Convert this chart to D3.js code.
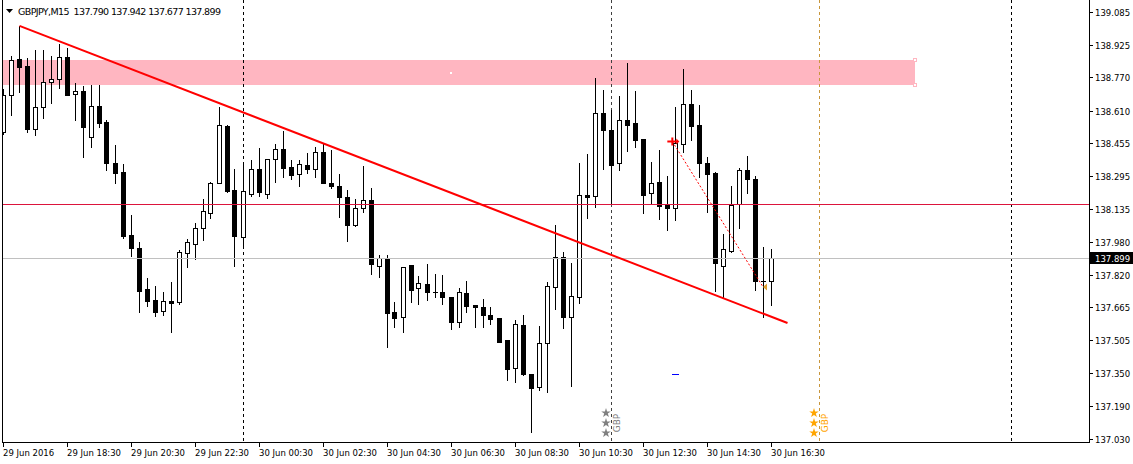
<!DOCTYPE html>
<html>
<head>
<meta charset="utf-8">
<script src="https://cdn.jsdelivr.net/npm/d3@7"></script>
<style>
  body { margin: 0; background: #fff; }
  svg { display: block; }
  text { font-family: "DejaVu Sans", Verdana, sans-serif; font-size: 8.5px; }
</style>
</head>
<body>
<div id="chart"></div>
<script>
// GBPJPY M15, 29 Jun 2016 16:30 .. 30 Jun 2016 16:30
var symbolName = "GBPJPY,M15";
var startTime = Date.UTC(2016, 5, 29, 16, 30);
var barMinutes = 15;

var opens = [138.508, 138.686, 138.859, 138.825, 138.522, 138.628, 138.748, 138.763, 138.869, 138.690,
    138.705, 138.484, 138.633, 138.556, 138.358, 138.315, 138.012, 137.949, 137.752, 137.699,
    137.646, 137.694, 137.690, 137.925, 137.969, 138.046, 138.118, 138.262, 138.537, 138.229,
    138.002, 138.209, 138.330, 138.209, 138.378, 138.426, 138.339, 138.306, 138.349, 138.330,
    138.411, 138.262, 138.248, 138.195, 138.060, 138.142, 138.180, 137.863, 137.901, 137.641,
    137.617, 137.868, 137.757, 137.776, 137.738, 137.738, 137.714, 137.593, 137.733, 137.675,
    137.666, 137.627, 137.613, 137.507, 137.372, 137.579, 137.343, 137.281, 137.492, 137.762,
    137.906, 137.617, 137.714, 138.204, 138.200, 138.599, 138.517, 138.358, 138.565, 138.551,
    138.474, 138.214, 138.267, 138.161, 138.142, 138.450, 138.642, 138.541, 138.358, 138.310,
    137.863, 137.935, 138.161, 138.325, 138.281, 137.791, 137.790];
var highs = [138.715, 138.873, 139.018, 138.864, 138.902, 138.902, 138.873, 138.931, 138.912, 138.743,
    138.729, 138.734, 138.734, 138.565, 138.445, 138.354, 138.108, 137.978, 137.805, 137.767,
    137.738, 137.786, 137.940, 137.993, 138.070, 138.185, 138.267, 138.628, 138.541, 138.330,
    138.354, 138.373, 138.431, 138.378, 138.450, 138.512, 138.373, 138.373, 138.407, 138.435,
    138.455, 138.421, 138.306, 138.229, 138.185, 138.344, 138.238, 137.916, 137.916, 137.690,
    137.858, 137.868, 137.815, 137.872, 137.824, 137.820, 137.714, 137.757, 137.791, 137.675,
    137.704, 137.666, 137.613, 137.507, 137.603, 137.627, 137.343, 137.574, 137.786, 138.060,
    137.930, 137.877, 138.358, 138.402, 138.768, 138.710, 138.613, 138.681, 138.840, 138.705,
    138.474, 138.363, 138.421, 138.296, 138.628, 138.811, 138.710, 138.638, 138.387, 138.315,
    138.017, 138.248, 138.334, 138.392, 138.296, 137.954, 137.942];
var lows = [138.498, 138.589, 138.700, 138.508, 138.493, 138.575, 138.647, 138.719, 138.684, 138.565,
    138.387, 138.435, 138.532, 138.325, 138.262, 137.998, 137.911, 137.641, 137.670, 137.622,
    137.627, 137.545, 137.680, 137.858, 137.897, 137.988, 138.094, 138.260, 138.219, 137.863,
    137.964, 138.200, 138.200, 138.190, 138.267, 138.291, 138.281, 138.248, 138.310, 138.291,
    138.260, 138.238, 138.099, 137.983, 138.055, 138.123, 137.824, 137.810, 137.473, 137.569,
    137.545, 137.690, 137.680, 137.699, 137.714, 137.680, 137.560, 137.569, 137.641, 137.569,
    137.569, 137.584, 137.497, 137.314, 137.305, 137.338, 137.064, 137.266, 137.256, 137.656,
    137.565, 137.285, 137.685, 138.094, 138.147, 138.330, 138.161, 138.325, 138.416, 138.435,
    138.118, 138.166, 138.089, 138.036, 138.084, 138.411, 138.469, 138.291, 138.123, 137.742,
    137.714, 137.930, 138.046, 138.214, 137.747, 137.617, 137.677];
var closes = [138.686, 138.854, 138.820, 138.522, 138.628, 138.748, 138.763, 138.869, 138.686, 138.705,
    138.532, 138.633, 138.551, 138.358, 138.310, 138.007, 137.949, 137.742, 137.694, 137.641,
    137.694, 137.685, 137.930, 137.978, 138.046, 138.127, 138.262, 138.541, 138.224, 138.007,
    138.224, 138.330, 138.219, 138.378, 138.426, 138.334, 138.301, 138.354, 138.330, 138.411,
    138.262, 138.248, 138.195, 138.060, 138.142, 138.180, 137.872, 137.901, 137.637, 137.613,
    137.858, 137.747, 137.781, 137.738, 137.738, 137.714, 137.593, 137.738, 137.670, 137.666,
    137.627, 137.608, 137.497, 137.367, 137.584, 137.343, 137.276, 137.492, 137.767, 137.906,
    137.617, 137.718, 138.204, 138.195, 138.599, 138.517, 138.349, 138.565, 138.541, 138.469,
    138.204, 138.262, 138.152, 138.142, 138.455, 138.642, 138.537, 138.358, 138.306, 137.877,
    137.945, 138.156, 138.325, 138.281, 137.791, 137.790, 137.899];

var priceTicks = [139.085, 138.925, 138.770, 138.610, 138.455, 138.295, 138.135,
    137.980, 137.820, 137.665, 137.505, 137.350, 137.190, 137.030];
var timeLabels = ["29 Jun 2016", "29 Jun 18:30", "29 Jun 20:30", "29 Jun 22:30", "30 Jun 00:30",
    "30 Jun 02:30", "30 Jun 04:30", "30 Jun 06:30", "30 Jun 08:30", "30 Jun 10:30",
    "30 Jun 12:30", "30 Jun 14:30", "30 Jun 16:30"];
var labelEveryBars = 8;

// objects on the chart (time, price)
var daySeparators = [Date.UTC(2016, 5, 30, 0, 0), Date.UTC(2016, 6, 1, 0, 0)];
var zoneTimes = [Date.UTC(2016, 5, 29, 16, 0), Date.UTC(2016, 5, 30, 21, 0)];
var zonePrices = [138.854, 138.734];
var trendTimes = [Date.UTC(2016, 5, 29, 17, 0), Date.UTC(2016, 5, 30, 17, 0)];
var trendPrices = [139.018, 137.588];
var levelPrice = 138.160;
var bidPrice = 137.899;
var tradeTimes = [Date.UTC(2016, 5, 30, 13, 25), Date.UTC(2016, 5, 30, 16, 15)];
var tradePrices = [138.462, 137.762];
var stopTimes = [Date.UTC(2016, 5, 30, 13, 24), Date.UTC(2016, 5, 30, 13, 38)];
var stopPrice = 137.343;
var eventTimes = [Date.UTC(2016, 5, 30, 11, 30), Date.UTC(2016, 5, 30, 18, 0)];
var eventNames = ["GBP", "GBP"];
var eventColors = ["#808080", "#ffa500"];
var eventLineColors = ["#404040", "#c8963c"];

var W = 1133, H = 464;
var plotLeft = 2, plotRight = 1089, plotBottom = 442;

var svg = d3.select("#chart").append("svg")
    .attr("width", W)
    .attr("height", H);

var ms = 60000;
var barTime = function (k) { return new Date(startTime + k * barMinutes * ms); };
var lastBar = opens.length - 1;

var x = d3.scaleTime()
    .domain([barTime(0), barTime(lastBar)])
    .range([3, 3 + 8 * lastBar]);
var y = d3.scaleLinear()
    .domain([137.030, 139.085])
    .range([439, 12]);

function px(v) { return Math.floor(v) + 0.5; }
function py(p) { return Math.round(y(p)); }

svg.append("defs").append("clipPath")
    .attr("id", "plotClip")
    .append("rect")
    .attr("x", plotLeft + 1)
    .attr("y", 0)
    .attr("width", plotRight - plotLeft - 1)
    .attr("height", plotBottom);

var plot = svg.append("g").attr("clip-path", "url(#plotClip)");

// supply zone (background object, selected)
var zx0 = x(zoneTimes[0]), zx1 = Math.round(x(zoneTimes[1]));
var zy0 = py(zonePrices[0]), zy1 = py(zonePrices[1]);
plot.append("rect")
    .attr("x", zx0)
    .attr("y", zy0)
    .attr("width", zx1 - zx0)
    .attr("height", zy1 - zy0)
    .attr("fill", "#ffb6c1");

// period separators
plot.selectAll(".sep")
    .data(daySeparators)
    .enter()
    .append("line")
    .attr("x1", function (d) { return px(x(d)); })
    .attr("x2", function (d) { return px(x(d)); })
    .attr("y1", 0)
    .attr("y2", plotBottom)
    .attr("stroke", "#000")
    .attr("stroke-dasharray", "3,3")
    .attr("shape-rendering", "crispEdges");

// calendar event lines
plot.selectAll(".evline")
    .data(eventTimes)
    .enter()
    .append("line")
    .attr("x1", function (d) { return px(x(d)); })
    .attr("x2", function (d) { return px(x(d)); })
    .attr("y1", 0)
    .attr("y2", plotBottom)
    .attr("stroke", function (d, i) { return eventLineColors[i]; })
    .attr("stroke-dasharray", "3,3")
    .attr("shape-rendering", "crispEdges");

var bars = d3.range(opens.length).map(function (i) {
    return {time: barTime(i), open: opens[i], high: highs[i], low: lows[i], close: closes[i]};
});

var candle = plot.selectAll(".candle")
    .data(bars)
    .enter()
    .append("g")
    .attr("class", "candle")
    .attr("shape-rendering", "crispEdges");

candle.append("rect")
    .attr("x", function (d) { return Math.floor(x(d.time)); })
    .attr("y", function (d) { return py(d.high); })
    .attr("width", 1)
    .attr("height", function (d) { return py(d.low) - py(d.high) + 1; })
    .attr("fill", "#000");

candle.append("rect")
    .attr("x", function (d) {
        var c = Math.floor(x(d.time));
        return d.close > d.open ? c - 1.5 : c - 2;
    })
    .attr("y", function (d) {
        var top = py(Math.max(d.open, d.close));
        return d.close > d.open ? top + 0.5 : top;
    })
    .attr("width", function (d) { return d.close > d.open ? 4 : 5; })
    .attr("height", function (d) {
        var h = py(Math.min(d.open, d.close)) - py(Math.max(d.open, d.close));
        return d.close > d.open ? h : h + 1;
    })
    .attr("fill", function (d) { return d.close > d.open ? "#fff" : "#000"; })
    .attr("stroke", function (d) { return d.close > d.open ? "#000" : "none"; })
    .attr("stroke-width", 1);

// selection handles of the zone
plot.selectAll(".handle")
    .data([zy0, zy1])
    .enter()
    .append("rect")
    .attr("x", zx1 - 1.5)
    .attr("y", function (d) { return d - 1.5; })
    .attr("width", 3)
    .attr("height", 3)
    .attr("fill", "#fff")
    .attr("stroke", "#ffb6c1")
    .attr("shape-rendering", "crispEdges");
plot.append("rect")
    .attr("x", Math.round((zx0 + zx1) / 2) - 1)
    .attr("y", Math.round((zy0 + zy1) / 2) - 1)
    .attr("width", 2)
    .attr("height", 2)
    .attr("fill", "#fff");

// horizontal level and bid line
plot.append("line")
    .attr("x1", plotLeft).attr("x2", plotRight)
    .attr("y1", py(levelPrice) + 0.5).attr("y2", py(levelPrice) + 0.5)
    .attr("stroke", "#dc143c")
    .attr("shape-rendering", "crispEdges");

plot.append("line")
    .attr("x1", plotLeft).attr("x2", plotRight)
    .attr("y1", py(bidPrice) + 0.5).attr("y2", py(bidPrice) + 0.5)
    .attr("stroke", "#c0c0c0")
    .attr("shape-rendering", "crispEdges");

// trend line
plot.append("line")
    .attr("x1", x(trendTimes[0]) + 0.5).attr("y1", y(trendPrices[0]))
    .attr("x2", x(trendTimes[1]) + 0.5).attr("y2", y(trendPrices[1]))
    .attr("stroke", "#ff0000")
    .attr("stroke-width", 2);

// trade history: open, dotted path, close
plot.append("line")
    .attr("x1", x(tradeTimes[0])).attr("y1", y(tradePrices[0]))
    .attr("x2", x(tradeTimes[1])).attr("y2", y(tradePrices[1]))
    .attr("stroke", "#ff0000")
    .attr("stroke-dasharray", "2,2");

var ox = x(tradeTimes[0]), oy = y(tradePrices[0]);
plot.append("path")
    .attr("d", "M" + (ox - 5) + "," + oy + "H" + (ox + 5) + "M" + ox + "," + (oy - 4) + "V" + (oy + 4))
    .attr("stroke", "#ff0000")
    .attr("stroke-width", 2);
plot.append("path")
    .attr("d", "M" + (ox + 7) + "," + oy + "l-3,-3v6z")
    .attr("fill", "#ff0000");

var cx = x(tradeTimes[1]), cy = y(tradePrices[1]);
plot.append("path")
    .attr("d", "M" + cx + "," + cy + "l4,-3.5v7z")
    .attr("fill", "#e0a030");

plot.append("line")
    .attr("x1", x(stopTimes[0])).attr("x2", x(stopTimes[1]))
    .attr("y1", py(stopPrice) + 0.5).attr("y2", py(stopPrice) + 0.5)
    .attr("stroke", "#0000ff")
    .attr("shape-rendering", "crispEdges");

// calendar event stars and labels
var star = d3.symbol().type(d3.symbolStar).size(28);
eventTimes.forEach(function (t, i) {
    var ex = x(t);
    [9, 19, 29].forEach(function (off) {
        plot.append("path")
            .attr("d", star)
            .attr("transform", "translate(" + (ex - 5) + "," + (plotBottom - off) + ")")
            .attr("fill", eventColors[i]);
    });
    plot.append("text")
        .attr("transform", "translate(" + (ex + 9) + "," + (plotBottom - 19) + ") rotate(-90)")
        .attr("text-anchor", "middle")
        .attr("fill", eventColors[i])
        .style("font-size", "9px")
        .text(eventNames[i]);
});

// frame
svg.append("path")
    .attr("d", "M" + (plotLeft + 0.5) + ",0V" + (plotBottom + 0.5) + "H" + (plotRight + 0.5) + "V0")
    .attr("fill", "none")
    .attr("stroke", "#000")
    .attr("shape-rendering", "crispEdges");

// price axis
var pAxis = svg.append("g");
pAxis.selectAll("line")
    .data(priceTicks)
    .enter()
    .append("line")
    .attr("x1", plotRight + 1).attr("x2", plotRight + 4)
    .attr("y1", function (d) { return py(d) + 0.5; })
    .attr("y2", function (d) { return py(d) + 0.5; })
    .attr("stroke", "#000")
    .attr("shape-rendering", "crispEdges");
pAxis.selectAll("text")
    .data(priceTicks)
    .enter()
    .append("text")
    .attr("x", plotRight + 6)
    .attr("y", function (d) { return py(d) + 4; })
    .attr("fill", "#000")
    .text(function (d) { return d.toFixed(3); });

svg.append("rect")
    .attr("x", plotRight + 1)
    .attr("y", py(bidPrice) - 6)
    .attr("width", W - plotRight - 1)
    .attr("height", 12)
    .attr("fill", "#000");
svg.append("text")
    .attr("x", plotRight + 6)
    .attr("y", py(bidPrice) + 4)
    .attr("fill", "#fff")
    .text(bidPrice.toFixed(3));

// time axis
var tAxis = svg.append("g");
var tickTimes = timeLabels.map(function (d, i) { return barTime(i * labelEveryBars); });
tAxis.selectAll("line")
    .data(tickTimes)
    .enter()
    .append("line")
    .attr("x1", function (d) { return px(x(d)); })
    .attr("x2", function (d) { return px(x(d)); })
    .attr("y1", plotBottom + 1).attr("y2", plotBottom + 5)
    .attr("stroke", "#000")
    .attr("shape-rendering", "crispEdges");
tAxis.selectAll("text")
    .data(tickTimes)
    .enter()
    .append("text")
    .attr("x", function (d) { return Math.floor(x(d)); })
    .attr("y", plotBottom + 14)
    .attr("fill", "#000")
    .text(function (d, i) { return timeLabels[i]; });

// header
svg.append("path")
    .attr("d", "M6,9H13L9.5,13Z")
    .attr("fill", "#000");
svg.append("text")
    .attr("x", 18)
    .attr("y", 14.5)
    .attr("fill", "#000")
    .attr("textLength", 203)
    .attr("lengthAdjust", "spacing")
    .style("font-size", "9.5px")
    .style("white-space", "pre")
    .text(symbolName + "  " + [opens[lastBar], highs[lastBar], lows[lastBar], closes[lastBar]]
        .map(function (v) { return v.toFixed(3); }).join(" "));
</script>
</body>
</html>
